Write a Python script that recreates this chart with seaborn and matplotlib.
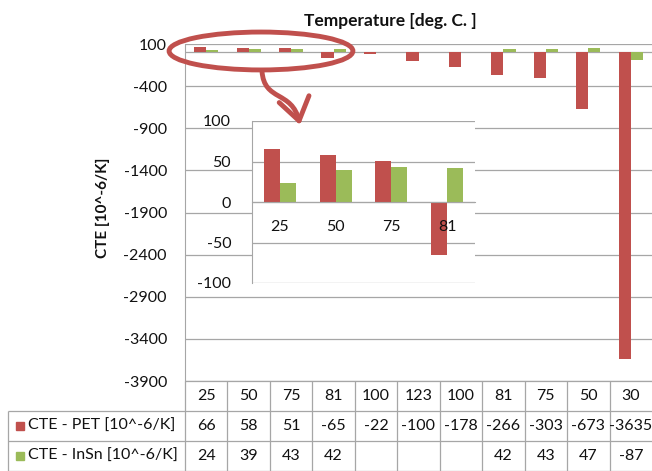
import numpy as np
import pandas as pd
import seaborn as sns
import matplotlib.pyplot as plt
import matplotlib.transforms as mtransforms
from matplotlib.patches import Ellipse, FancyArrowPatch, Rectangle
from matplotlib.path import Path

temps = ['25', '50', '75', '81', '100', '123', '100', '81', '75', '50', '30']
cte_pet = [66, 58, 51, -65, -22, -100, -178, -266, -303, -673, -3635]
cte_insn = [24, 39, 43, 42, np.nan, np.nan, np.nan, 42, 43, 47, -87]
series = ['CTE - PET [10^-6/K]', 'CTE - InSn [10^-6/K]']
colors = ['#C0504D', '#9BBB59']
main_ticks = list(range(-3900, 101, 500))
zoom_ticks = [-100, -50, 0, 50, 100]
n_zoom = 4

W, H = 652, 471
GRID = '#a6a6a6'
TXT = '#111111'


def fx(p):
	return p / W


def fy(p):
	return 1 - p / H


df = pd.DataFrame({
	'pos': list(range(len(temps))) * 2,
	'series': [series[0]] * len(temps) + [series[1]] * len(temps),
	'value': cte_pet + cte_insn,
}).dropna()

sns.set_style('white')
plt.rcParams['font.family'] = ['Lato', 'DejaVu Sans']
plt.rcParams['axes.unicode_minus'] = False

fig = plt.figure(figsize=(W / 100, H / 100), dpi=100)

# main chart
ax = fig.add_axes([fx(185), fy(381), fx(652) - fx(185), (381 - 44) / H])
sns.barplot(data=df, x='pos', y='value', hue='series', hue_order=series,
	palette=colors, width=0.57, saturation=1, errorbar=None, linewidth=0,
	legend=False, ax=ax)
ax.set_xlim(-0.5, len(temps) - 0.5)
ax.set_ylim(-3900, 100)
ax.set_yticks(main_ticks)
ax.set_xticks([])
ax.set_xlabel('')
ax.set_ylabel('')
ax.grid(axis='y', color=GRID, lw=0.9)
ax.set_axisbelow(True)
ax.axhline(0, color=GRID, lw=0.9, zorder=0.5)
for s in ['top', 'right', 'bottom']:
	ax.spines[s].set_visible(False)
ax.spines['left'].set_color(GRID)
ax.tick_params(axis='y', length=0, pad=13, labelsize=11.5, labelcolor=TXT)

fig.text(fx(390), fy(21), 'Temperature [deg. C. ]', ha='center', va='center',
	fontweight='bold', fontsize=12.5, color=TXT)
fig.text(fx(103), fy(208), 'CTE [10^-6/K]', ha='center', va='center',
	rotation=90, fontweight='bold', fontsize=11, color=TXT)

# data table under the chart
tax = fig.add_axes([0, 0, 1, (H - 381) / H])
tax.set_axis_off()
tax.set_xlim(0, 1)
tax.set_ylim(3, 0)
col_tr = mtransforms.blended_transform_factory(ax.transData, tax.transData)
lab_tr = mtransforms.blended_transform_factory(tax.transAxes, tax.transData)
right = len(temps) - 0.5
tax.hlines(0, -0.5, right, color=GRID, lw=0.9, transform=col_tr, clip_on=False)
for r in [1, 2, 3]:
	tax.hlines(r, fx(8), 1, color=GRID, lw=0.9, transform=lab_tr, clip_on=False)
for i in range(len(temps)):
	tax.vlines(i - 0.5, 0, 3, color=GRID, lw=0.9, transform=col_tr, clip_on=False)
tax.vlines(fx(8), 1, 3, color=GRID, lw=0.9, transform=lab_tr, clip_on=False)

rows = [temps,
	['' if np.isnan(v) else str(int(v)) for v in cte_pet],
	['' if np.isnan(v) else str(int(v)) for v in cte_insn]]
for r, vals in enumerate(rows):
	for i, v in enumerate(vals):
		tax.text(i, r + 0.5, v, ha='center', va='center', fontsize=11.5,
			color=TXT, transform=col_tr)
for k, name in enumerate(series):
	tax.add_patch(Rectangle((fx(16), k + 1.5 - 0.14), 8 / W, 0.28,
		color=colors[k], transform=lab_tr, clip_on=False))
	tax.text(fx(28), k + 1.5, name, ha='left', va='center', fontsize=11.5,
		color=TXT, transform=lab_tr)

# zoomed inset of the first temperatures
iax = fig.add_axes([fx(252), fy(283), (475 - 252) / W, (283 - 121) / H])
zdf = df[df['pos'] < n_zoom]
sns.barplot(data=zdf, x='pos', y='value', hue='series', hue_order=series,
	palette=colors, width=0.574, saturation=1, errorbar=None, linewidth=0,
	legend=False, ax=iax)
iax.set_facecolor('white')
iax.set_xlim(-0.5, n_zoom - 0.5)
iax.set_ylim(-100, 100)
iax.set_yticks(zoom_ticks)
iax.set_xticks(range(n_zoom))
iax.set_xticklabels(temps[:n_zoom])
iax.set_xticks(np.arange(n_zoom) + 0.5, minor=True)
iax.set_xlabel('')
iax.set_ylabel('')
iax.grid(axis='y', color=GRID, lw=0.9)
iax.set_axisbelow(True)
iax.xaxis.set_zorder(3)
iax.spines['bottom'].set_position(('data', 0))
for s in ['top', 'right']:
	iax.spines[s].set_visible(False)
iax.spines['bottom'].set_color(GRID)
iax.spines['left'].set_color(GRID)
iax.tick_params(axis='x', which='major', length=0, pad=13, labelsize=11.5, labelcolor=TXT)
iax.tick_params(axis='x', which='minor', length=6, color=GRID, direction='out')
iax.tick_params(axis='y', length=8, color=GRID, pad=7, labelsize=11.5, labelcolor=TXT)

# red ring and arrow pointing at the inset
ring = Ellipse((1.29, 17), 4.33, 450, fill=False, ec=colors[0], lw=3.5,
	transform=ax.transData, clip_on=False, zorder=5)
fig.add_artist(ring)
verts = [(fx(262), fy(71)), (fx(264), fy(102)), (fx(292), fy(90)), (fx(300), fy(125))]
codes = [Path.MOVETO, Path.CURVE4, Path.CURVE4, Path.CURVE4]
arrow = FancyArrowPatch(path=Path(verts, codes),
	arrowstyle='->,head_length=0.8,head_width=0.55', mutation_scale=20,
	color=colors[0], lw=3.5, transform=fig.transFigure, zorder=5)
fig.add_artist(arrow)

fig.savefig('out.png', dpi=100, facecolor='white')
